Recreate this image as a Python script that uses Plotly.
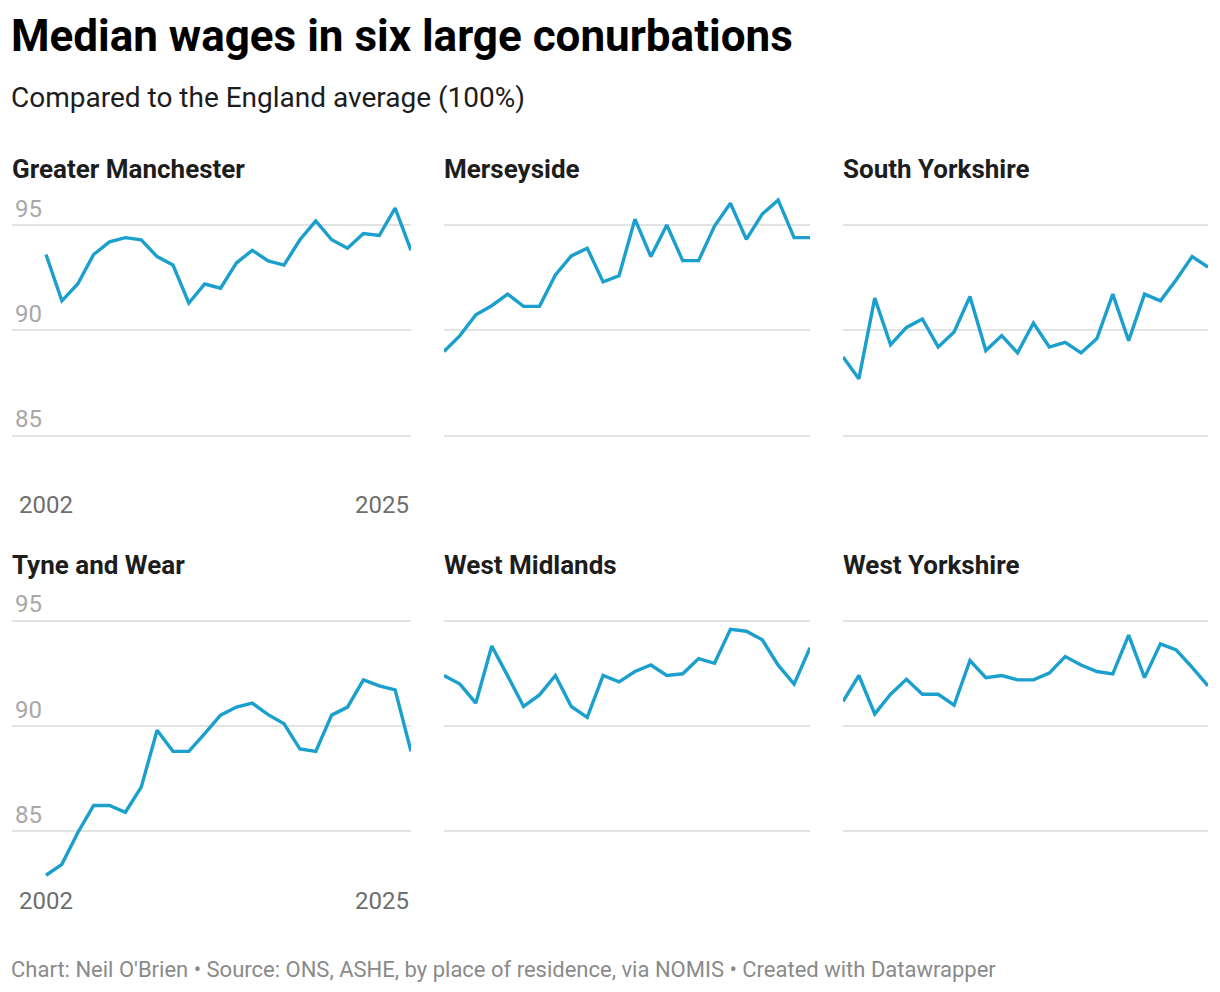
import plotly.graph_objects as go

years = list(range(2002, 2026))

panel_names = ["Greater Manchester", "Merseyside", "South Yorkshire",
               "Tyne and Wear", "West Midlands", "West Yorkshire"]

greater_manchester = [93.6, 91.4, 92.2, 93.6, 94.2, 94.4, 94.3, 93.5, 93.1, 91.3, 92.2, 92.0,
                      93.2, 93.8, 93.3, 93.1, 94.3, 95.2, 94.3, 93.9, 94.6, 94.5, 95.8, 93.8]
merseyside = [89.0, 89.75, 90.74, 91.17, 91.72, 91.14, 91.14, 92.63, 93.53, 93.9, 92.3, 92.59,
              95.28, 93.5, 95.0, 93.31, 93.31, 94.95, 96.03, 94.32, 95.52, 96.18, 94.4, 94.4]
south_yorkshire = [88.74, 87.7, 91.53, 89.32, 90.14, 90.54, 89.21, 89.92, 91.61, 89.04, 89.75, 88.93,
                   90.35, 89.21, 89.43, 88.93, 89.61, 91.72, 89.51, 91.72, 91.4, 92.4, 93.5, 93.0]
tyne_and_wear = [82.92, 83.44, 84.94, 86.23, 86.23, 85.91, 87.1, 89.8, 88.8, 88.8, 89.64, 90.52,
                 90.9, 91.09, 90.54, 90.11, 88.91, 88.8, 90.52, 90.9, 92.19, 91.91, 91.72, 88.8]
west_midlands = [92.4, 91.99, 91.09, 93.8, 92.38, 90.93, 91.48, 92.4, 90.93, 90.41, 92.4, 92.1,
                 92.59, 92.9, 92.4, 92.48, 93.2, 92.98, 94.59, 94.5, 94.09, 92.89, 91.99, 93.72]
west_yorkshire = [91.17, 92.4, 90.58, 91.51, 92.22, 91.51, 91.51, 90.99, 93.11, 92.3, 92.4, 92.19,
                  92.19, 92.51, 93.3, 92.9, 92.59, 92.48, 94.32, 92.3, 93.9, 93.61, 92.79, 91.91]

series = [greater_manchester, merseyside, south_yorkshire,
          tyne_and_wear, west_midlands, west_yorkshire]

y_ticks = [85, 90, 95]
x_tick_labels = ["2002", "2025"]

# page body adds an 8px offset; figure fills the rest of the window
OFF = 8
W, H = 1220 - OFF, 992 - OFF
LINE = "#1b9fcd"
GRID = "#e3e3e3"
FONT = "Roboto"

def px_x(p):
    return (p - OFF) / W

def px_y(p):
    return 1 - (p - OFF) / H

# column pixel extents (plot area) and row pixel extents, in window pixels
col_px = [(12, 411), (444, 810), (843, 1208)]
row_px = [(193.4, 488.4), (589.1, 884.1)]
y_range = [82.5, 96.5]
col1_left_year = 2002 - (46 - 12) / ((411 - 46) / 23)

fig = go.Figure()
annotations = []

for i, (name, vals) in enumerate(zip(panel_names, series)):
    r, c = divmod(i, 3)
    idx = i + 1
    xa = "x" if idx == 1 else f"x{idx}"
    ya = "y" if idx == 1 else f"y{idx}"
    fig.add_trace(go.Scatter(x=years, y=vals, mode="lines",
                             line=dict(color=LINE, width=3.4),
                             xaxis=xa, yaxis=ya, showlegend=False,
                             hoverinfo="x+y"))
    x0, x1 = col_px[c]
    yt, yb = row_px[r]
    xr = [col1_left_year, 2025] if c == 0 else [2002, 2025]
    fig.update_layout(**{
        ("xaxis" if idx == 1 else f"xaxis{idx}"): dict(
            domain=[px_x(x0), px_x(x1)], range=xr, anchor=ya,
            showgrid=False, zeroline=False, showticklabels=False,
            showline=False, fixedrange=True),
        ("yaxis" if idx == 1 else f"yaxis{idx}"): dict(
            domain=[px_y(yb), px_y(yt)], range=y_range, anchor=xa,
            tickvals=y_ticks, ticktext=[str(t) for t in y_ticks],
            showticklabels=(c == 0), ticklabelposition="inside top",
            tickfont=dict(family=FONT, size=24, color="#a8a8a8"),
            showgrid=True, gridcolor=GRID, gridwidth=2,
            zeroline=False, showline=False, ticks="", fixedrange=True),
    })
    # panel title
    title_y = 169 if r == 0 else 565
    annotations.append(dict(text=f"<b>{name}</b>", xref="paper", yref="paper",
                            x=px_x((x0 if c != 0 else 12) - 2), y=px_y(title_y),
                            xanchor="left", yanchor="middle", showarrow=False,
                            font=dict(family=FONT, size=26, color="#1d1d1d")))
    # x labels in first column only
    if c == 0:
        lab_y = 505 if r == 0 else 901
        annotations.append(dict(text=x_tick_labels[0], xref=xa, yref="paper",
                                x=years[0], y=px_y(lab_y), xanchor="center",
                                yanchor="middle", showarrow=False,
                                font=dict(family=FONT, size=24, color="#6e6e6e")))
        annotations.append(dict(text=x_tick_labels[1], xref=xa, yref="paper",
                                x=years[-1], y=px_y(lab_y), xanchor="right",
                                yanchor="middle", showarrow=False,
                                font=dict(family=FONT, size=24, color="#6e6e6e")))

annotations.append(dict(text="<b>Median wages in six large conurbations</b>",
                        xref="paper", yref="paper", x=px_x(9), y=px_y(36),
                        xanchor="left", yanchor="middle", showarrow=False,
                        font=dict(family=FONT, size=44, color="#000000")))
annotations.append(dict(text="Compared to the England average (100%)",
                        xref="paper", yref="paper", x=px_x(9), y=px_y(97),
                        xanchor="left", yanchor="middle", showarrow=False,
                        font=dict(family=FONT, size=28, color="#1d1d1d")))
annotations.append(dict(text="Chart: Neil O'Brien • Source: ONS, ASHE, by place of residence, via NOMIS • Created with Datawrapper",
                        xref="paper", yref="paper", x=px_x(9), y=px_y(969),
                        xanchor="left", yanchor="middle", showarrow=False,
                        font=dict(family=FONT, size=22, color="#8a8a8a")))

fig.update_layout(width=W, height=H, margin=dict(l=0, r=0, t=0, b=0),
                  paper_bgcolor="white", plot_bgcolor="white",
                  annotations=annotations, showlegend=False)

fig.write_html("out.html", config={"displayModeBar": False})
